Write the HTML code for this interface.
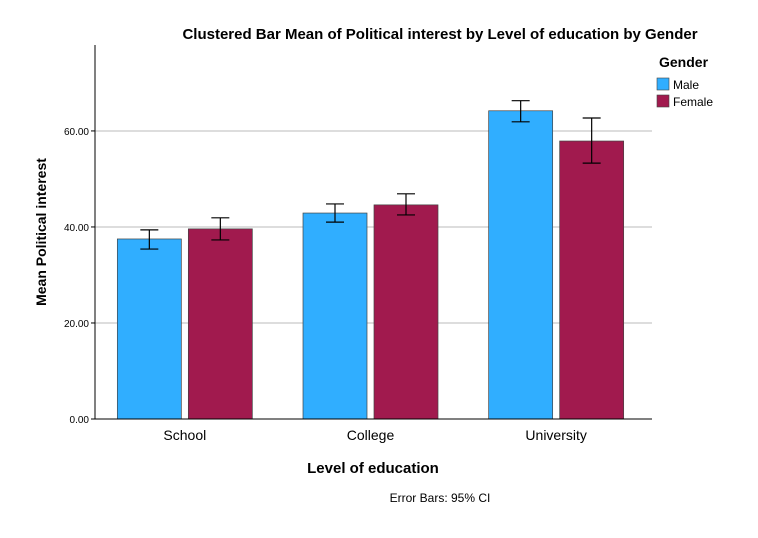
<!DOCTYPE html>
<html><head><meta charset="utf-8"><style>
body{margin:0;background:#fff;font-family:"Liberation Sans",Arial,sans-serif}
svg text{font-family:"Liberation Sans",Arial,sans-serif}
</style></head><body>
<svg width="758" height="533" viewBox="0 0 758 533">
<text x="440" y="39" text-anchor="middle" font-size="15" font-weight="bold" fill="#000">Clustered Bar Mean of Political interest by Level of education by Gender</text>
<g id="grid"></g>
<g id="bars"></g>
<g id="axes"></g>
<text x="46" y="232" text-anchor="middle" font-size="14" font-weight="bold" transform="rotate(-90 46 232)">Mean Political interest</text>
<text x="373" y="473" text-anchor="middle" font-size="15" font-weight="bold">Level of education</text>
<text x="440" y="502" text-anchor="middle" font-size="12">Error Bars: 95% CI</text>
<g>
<text x="659" y="67" font-size="14" font-weight="bold">Gender</text>
<g><rect x="657" y="78" width="12" height="12" fill="#30aeff" stroke="#444" stroke-width="0.6"/><text x="673" y="89" font-size="12">Male</text></g>
<g><rect x="657" y="95" width="12" height="12" fill="#a11a4e" stroke="#444" stroke-width="0.6"/><text x="673" y="106" font-size="12">Female</text></g>
</g>
</svg>
<script>
const categories=["School","College","University"];
const maleMeans=[37.5,42.9,64.2];
const femaleMeans=[39.6,44.6,57.9];
const maleLow=[35.4,41.0,61.9];
const maleHigh=[39.4,44.8,66.3];
const femaleLow=[37.3,42.5,53.3];
const femaleHigh=[41.9,46.9,62.7];
const yTicks=[0,20,40,60];
const tickLabels=["0.00","20.00","40.00","60.00"];

const NS="http://www.w3.org/2000/svg";
const L=95,R=652,T=45,B=419,yMax=77.9;
const y=v=>B-v/yMax*(B-T);
const bandW=(R-L)/categories.length;
const xc=i=>L+bandW*(i+0.5)-5;
function mk(tag,attrs,parent){const e=document.createElementNS(NS,tag);for(const k in attrs)e.setAttribute(k,attrs[k]);parent.appendChild(e);return e;}
const grid=document.getElementById('grid'),bars=document.getElementById('bars'),axes=document.getElementById('axes');
yTicks.forEach((t,i)=>{
  if(t>0){const g=mk('line',{x1:L,x2:R,y1:y(t),y2:y(t),stroke:'#bbb','stroke-width':1},grid);
  
  }
  const tk=mk('line',{x1:L-4,x2:L,y1:y(t),y2:y(t),stroke:'#000'},axes);
  
  
  const lb=mk('text',{x:L-6,y:y(t)+4,'text-anchor':'end','font-size':10},axes);lb.textContent=tickLabels[i];
  
  
});
const bw=64,gap=7;
function bar(x,v,lo,hi,col,name){
  const r=mk('rect',{x:x,y:y(v),width:bw,height:B-y(v),fill:col,stroke:'#444','stroke-width':0.7},bars);
  
  
  const cx=x+bw/2;
  const g=mk('g',{stroke:'#000','stroke-width':1.2},bars);
  
  
  mk('line',{x1:cx,x2:cx,y1:y(hi),y2:y(lo)},g);
  mk('line',{x1:cx-9,x2:cx+9,y1:y(hi),y2:y(hi)},g);
  mk('line',{x1:cx-9,x2:cx+9,y1:y(lo),y2:y(lo)},g);
}
categories.forEach((c,i)=>{
  const cx=xc(i)+2;
  bar(cx-gap/2-bw,maleMeans[i],maleLow[i],maleHigh[i],'#30aeff','bar-male-'+c.toLowerCase());
  bar(cx+gap/2,femaleMeans[i],femaleLow[i],femaleHigh[i],'#a11a4e','bar-female-'+c.toLowerCase());
  const t=mk('text',{x:cx,y:440,'text-anchor':'middle','font-size':14},axes);t.textContent=c;
  
  
});
const ya=mk('line',{x1:L,x2:L,y1:T,y2:B,stroke:'#000'},axes);


const xa=mk('line',{x1:L,x2:R,y1:B,y2:B,stroke:'#000'},axes);


</script>
</body></html>
